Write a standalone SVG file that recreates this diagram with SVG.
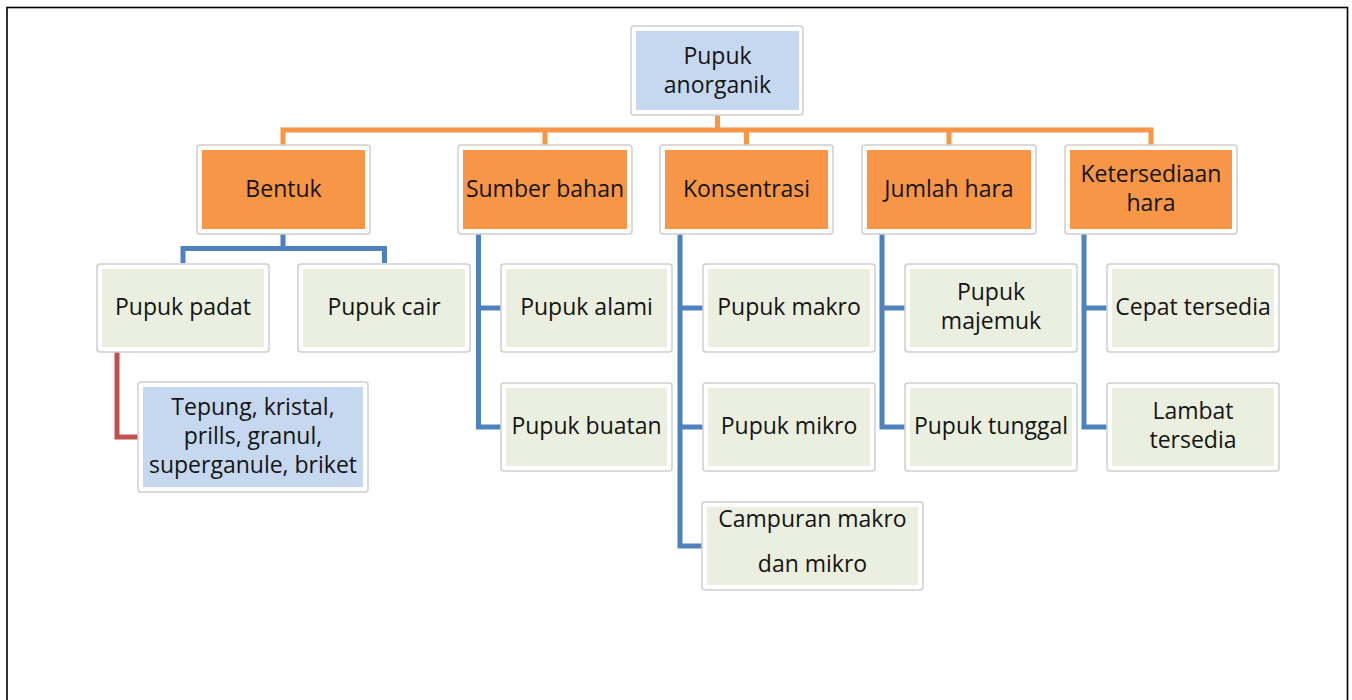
<svg xmlns="http://www.w3.org/2000/svg" width="1352" height="700" viewBox="0 0 1352 700">
<style>
.frame{fill:#fff;stroke:#000;stroke-width:1.6}
.outer{fill:#fff;stroke:#cfcfcf;stroke-width:1.5}
.orange{fill:#f79646}
.blue{fill:#c6d8f0}
.green{fill:#ebefdf}
.t{font-family:"Open Sans","Noto Sans",sans-serif;font-size:23px;fill:#141414;text-anchor:middle}
.co{fill:none;stroke:#f79646;stroke-width:5}
.cb{fill:none;stroke:#4f81bd;stroke-width:5}
.cr{fill:none;stroke:#c0504d;stroke-width:5}
</style>
<rect class="frame" x="7" y="7.5" width="1340.5" height="800"/>
<g id="connectors">
<path class="co" d="M717.5,115 V130 M283,145 V130 H1153.5 M1151,130 V145 M545,130 V145 M746.5,130 V145 M949,130 V145"/>
<path class="cb" d="M283,234 V248.5 M183,263 V248.5 H384.5 V263"/>
<path class="cr" d="M117,352 V437 H138"/>
<path class="cb" d="M478.5,234 V427 H501 M478.5,308 H501"/>
<path class="cb" d="M680,234 V546 H702 M680,308 H703 M680,427 H703"/>
<path class="cb" d="M882,234 V427 H905 M882,308 H905"/>
<path class="cb" d="M1084,234 V427 H1107 M1084,308 H1107"/>
</g>
<g id="root">
<rect class="outer" x="631" y="26" width="172" height="89" rx="3"/>
<rect class="blue" x="636" y="31" width="163" height="79"/>
<text class="t" x="717.5" y="64">Pupuk</text>
<text class="t" x="717.5" y="93">anorganik</text>
</g>
<g id="bentuk">
<rect class="outer" x="197" y="145" width="173" height="89" rx="3"/>
<rect class="orange" x="202" y="150" width="163" height="79"/>
<text class="t" x="283.5" y="197">Bentuk</text>
</g>
<g id="sumber">
<rect class="outer" x="458" y="145" width="174" height="89" rx="3"/>
<rect class="orange" x="463" y="150" width="164" height="79"/>
<text class="t" x="545" y="197">Sumber bahan</text>
</g>
<g id="konsentrasi">
<rect class="outer" x="660" y="145" width="173" height="89" rx="3"/>
<rect class="orange" x="665" y="150" width="163" height="79"/>
<text class="t" x="746.5" y="197">Konsentrasi</text>
</g>
<g id="jumlah">
<rect class="outer" x="862" y="145" width="174" height="89" rx="3"/>
<rect class="orange" x="867" y="150" width="164" height="79"/>
<text class="t" x="949" y="197">Jumlah hara</text>
</g>
<g id="ketersediaan">
<rect class="outer" x="1065" y="145" width="172" height="89" rx="3"/>
<rect class="orange" x="1070" y="150" width="162" height="79"/>
<text class="t" x="1151" y="182">Ketersediaan</text>
<text class="t" x="1151" y="211">hara</text>
</g>
<g id="padat">
<rect class="outer" x="97" y="264" width="172" height="88" rx="3"/>
<rect class="green" x="102" y="269" width="162" height="78"/>
<text class="t" x="183" y="315">Pupuk padat</text>
</g>
<g id="cair">
<rect class="outer" x="298" y="264" width="172" height="88" rx="3"/>
<rect class="green" x="303" y="269" width="162" height="78"/>
<text class="t" x="384" y="315">Pupuk cair</text>
</g>
<g id="tepung">
<rect class="outer" x="138" y="382" width="230" height="110" rx="3"/>
<rect class="blue" x="143" y="387" width="220" height="100"/>
<text class="t" x="253" y="415">Tepung, kristal,</text>
<text class="t" x="253" y="444">prills, granul,</text>
<text class="t" x="253" y="473">superganule, briket</text>
</g>
<g id="alami">
<rect class="outer" x="501" y="264" width="171" height="88" rx="3"/>
<rect class="green" x="506" y="269" width="161" height="78"/>
<text class="t" x="586.5" y="315">Pupuk alami</text>
</g>
<g id="buatan">
<rect class="outer" x="501" y="383" width="171" height="88" rx="3"/>
<rect class="green" x="506" y="388" width="161" height="78"/>
<text class="t" x="586.5" y="434">Pupuk buatan</text>
</g>
<g id="makro">
<rect class="outer" x="703" y="264" width="172" height="88" rx="3"/>
<rect class="green" x="708" y="269" width="162" height="78"/>
<text class="t" x="789" y="315">Pupuk makro</text>
</g>
<g id="mikro">
<rect class="outer" x="703" y="383" width="172" height="88" rx="3"/>
<rect class="green" x="708" y="388" width="162" height="78"/>
<text class="t" x="789" y="434">Pupuk mikro</text>
</g>
<g id="campuran">
<rect class="outer" x="702" y="502" width="221" height="88" rx="3"/>
<rect class="green" x="707" y="507" width="211" height="78"/>
<text class="t" x="812.5" y="527">Campuran makro</text>
<text class="t" x="812.5" y="572">dan mikro</text>
</g>
<g id="majemuk">
<rect class="outer" x="905" y="264" width="172" height="88" rx="3"/>
<rect class="green" x="910" y="269" width="162" height="78"/>
<text class="t" x="991" y="300">Pupuk</text>
<text class="t" x="991" y="329">majemuk</text>
</g>
<g id="tunggal">
<rect class="outer" x="905" y="383" width="172" height="88" rx="3"/>
<rect class="green" x="910" y="388" width="162" height="78"/>
<text class="t" x="991" y="434">Pupuk tunggal</text>
</g>
<g id="cepat">
<rect class="outer" x="1107" y="264" width="172" height="88" rx="3"/>
<rect class="green" x="1112" y="269" width="162" height="78"/>
<text class="t" x="1193" y="315">Cepat tersedia</text>
</g>
<g id="lambat">
<rect class="outer" x="1107" y="383" width="172" height="88" rx="3"/>
<rect class="green" x="1112" y="388" width="162" height="78"/>
<text class="t" x="1193" y="419">Lambat</text>
<text class="t" x="1193" y="448">tersedia</text>
</g>
</svg>
